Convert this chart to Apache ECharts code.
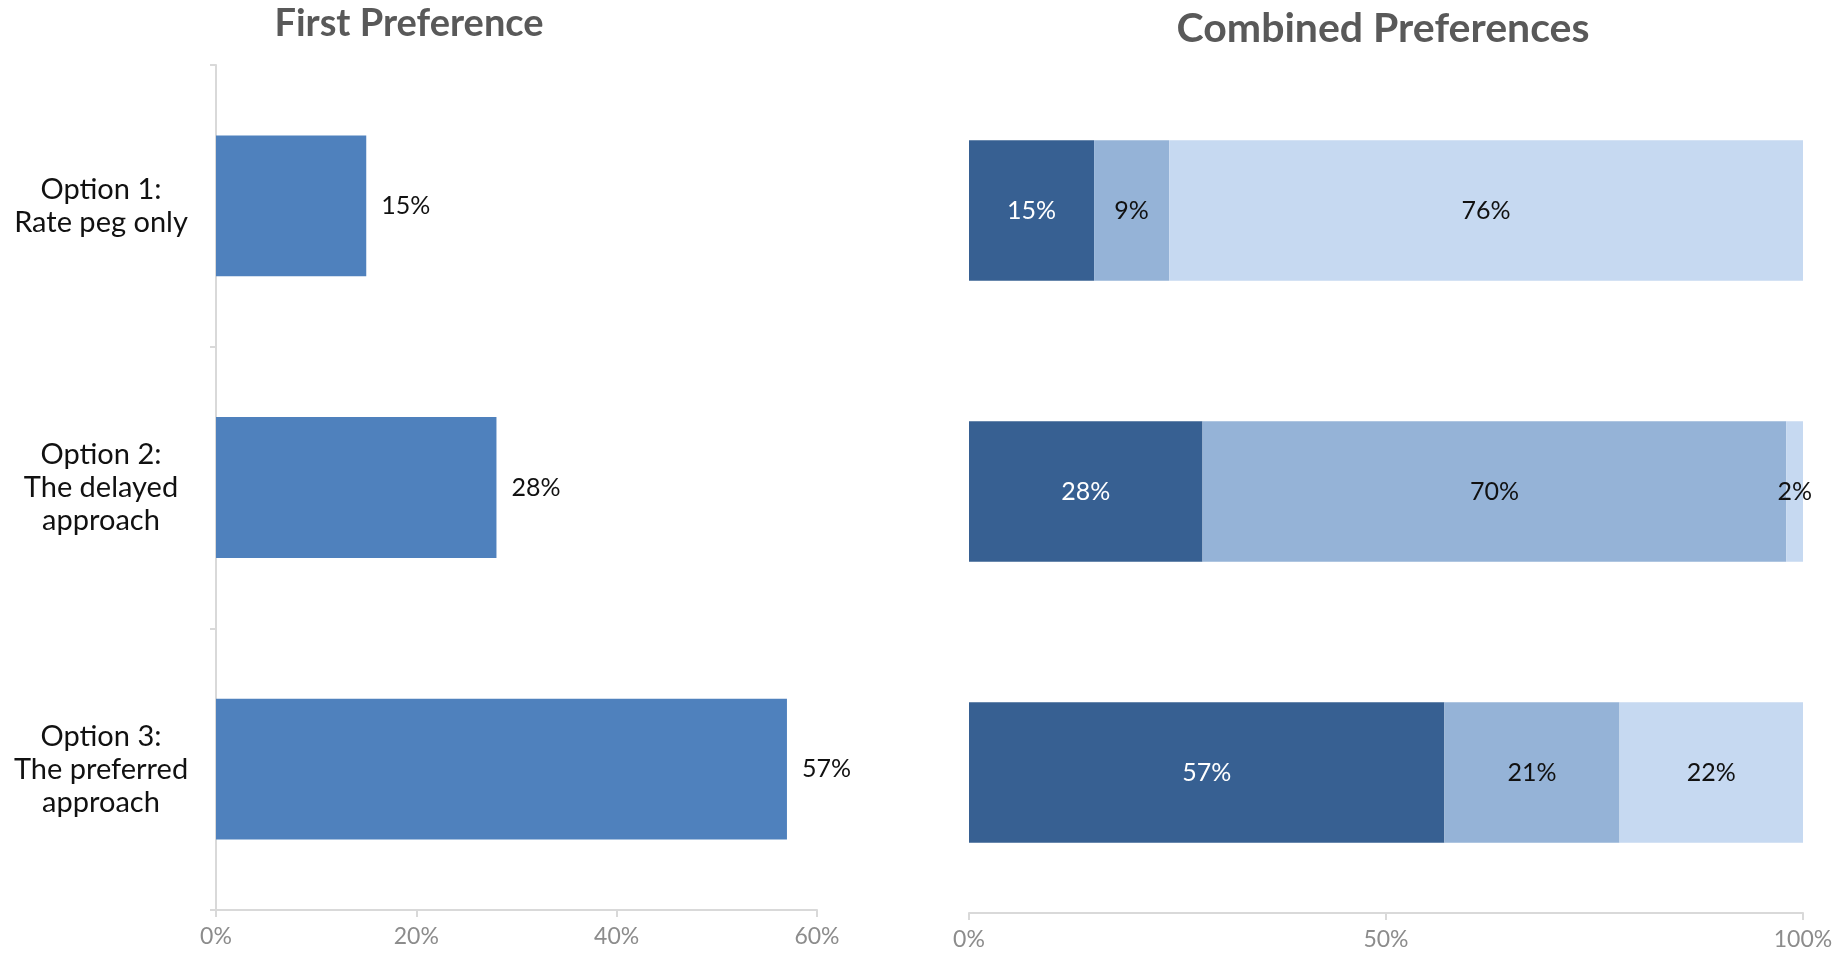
<!DOCTYPE html>
<html>
<head>
<meta charset="utf-8">
<script src="https://cdn.jsdelivr.net/npm/echarts@6/dist/echarts.min.js"></script>
<style>
html,body{margin:0;padding:0;background:#fff;}
#c{width:1841px;height:956px;}
</style>
</head>
<body>
<div id="c"></div>
<script>
const categories = ["Option 1:\nRate peg only", "Option 2:\nThe delayed\napproach", "Option 3:\nThe preferred\napproach"];
const firstPreference = [15, 28, 57];
const combinedFirst = [15, 28, 57];
const combinedSecond = [9, 70, 21];
const combinedThird = [76, 2, 22];
const leftTicks = [0, 20, 40, 60];
const rightTicks = [0, 50, 100];

const FONT = 'Lato';
const chart = echarts.init(document.getElementById('c'));
const axisGray = '#d9d9d9';
const tickLabel = {color: '#8c8c8c', fontSize: 23, fontFamily: FONT, margin: 15, formatter: v => v + '%'};

function segLabel(color) {
  return {show: true, position: 'inside', color: color, fontSize: 25, fontFamily: FONT, formatter: p => p.value + '%'};
}

chart.setOption({
  animation: false,
  backgroundColor: '#fff',
  title: [
    {text: 'First Preference', left: 404, top: 0, textAlign: 'center',
     textStyle: {fontSize: 38, fontWeight: 'bold', color: '#595959', fontFamily: FONT}},
    {text: 'Combined Preferences', left: 1378, top: 3, textAlign: 'center',
     textStyle: {fontSize: 41, fontWeight: 'bold', color: '#595959', fontFamily: FONT}}
  ],
  grid: [
    {left: 216, top: 65, width: 601, height: 845, containLabel: false},
    {left: 969, top: 70, width: 834, height: 843, containLabel: false}
  ],
  xAxis: [
    {gridIndex: 0, type: 'value', min: leftTicks[0], max: leftTicks[leftTicks.length - 1], interval: 20,
     axisLine: {show: true, lineStyle: {color: axisGray, width: 2}},
     axisTick: {show: true, length: 7, lineStyle: {color: axisGray, width: 2}},
     splitLine: {show: false}, axisLabel: tickLabel},
    {gridIndex: 1, type: 'value', min: rightTicks[0], max: rightTicks[rightTicks.length - 1], interval: 50,
     axisLine: {show: true, lineStyle: {color: axisGray, width: 2}},
     axisTick: {show: true, length: 7, lineStyle: {color: axisGray, width: 2}},
     splitLine: {show: false}, axisLabel: tickLabel}
  ],
  yAxis: [
    {gridIndex: 0, type: 'category', data: categories, inverse: true,
     axisLine: {show: true, lineStyle: {color: axisGray, width: 2}},
     axisTick: {show: true, length: 6, lineStyle: {color: axisGray, width: 2}},
     axisLabel: {color: '#111', fontSize: 29, fontFamily: FONT, lineHeight: 33, align: 'center', margin: 115}},
    {gridIndex: 1, type: 'category', data: categories, inverse: true,
     axisLine: {show: false}, axisTick: {show: false}, axisLabel: {show: false}}
  ],
  series: [
    {type: 'bar', xAxisIndex: 0, yAxisIndex: 0, data: firstPreference, barWidth: '50%',
     itemStyle: {color: '#4F81BD'},
     label: {show: true, position: 'right', distance: 15, color: '#111', fontSize: 25, fontFamily: FONT, formatter: p => p.value + '%'}},
    {type: 'bar', xAxisIndex: 1, yAxisIndex: 1, stack: 'c', data: combinedFirst, barWidth: '50%',
     itemStyle: {color: '#376092'}, label: segLabel('#ffffff')},
    {type: 'bar', xAxisIndex: 1, yAxisIndex: 1, stack: 'c', data: combinedSecond, barWidth: '50%',
     itemStyle: {color: '#95B3D7'}, label: segLabel('#111')},
    {type: 'bar', xAxisIndex: 1, yAxisIndex: 1, stack: 'c', data: combinedThird, barWidth: '50%',
     itemStyle: {color: '#C6D9F1'}, label: segLabel('#111')}
  ]
});
</script>
</body>
</html>
